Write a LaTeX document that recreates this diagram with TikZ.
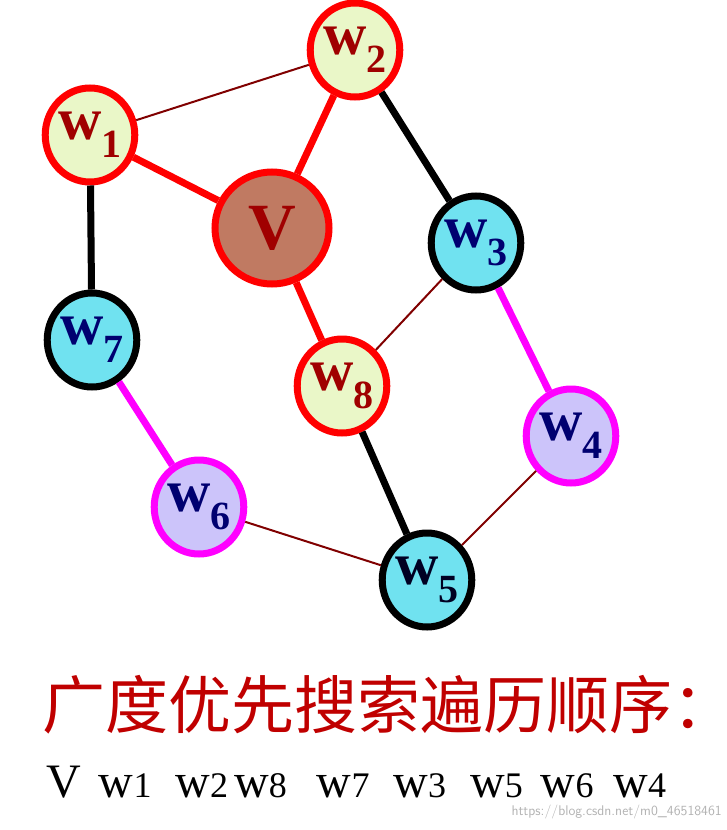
\documentclass[tikz,border=0pt]{standalone}
\usepackage{fontspec}
\setmainfont{Liberation Serif}
\newfontfamily\cjk{Noto Sans CJK SC}
\usetikzlibrary{shapes.geometric}
\definecolor{lg}{HTML}{EAF7C8}
\definecolor{vb}{HTML}{C07A62}
\definecolor{cy}{HTML}{70E2F0}
\definecolor{lv}{HTML}{CCC4FA}
\definecolor{dr}{HTML}{A00000}
\definecolor{nv}{HTML}{000070}
\definecolor{thin}{HTML}{800000}
\definecolor{mg}{HTML}{FF00FF}
\definecolor{tr}{HTML}{C00000}
\newcommand{\wlab}[1]{w\raisebox{-0.3em}{\fontsize{40}{40}\selectfont #1}}
\newcommand{\sq}[1]{w{\fontsize{36}{36}\selectfont #1}}
\begin{document}
\begin{tikzpicture}[x=1pt,y=-1pt,
  base/.style={ellipse,line width=7pt,minimum width=84pt,minimum height=94pt,inner sep=0pt,font=\fontsize{60}{60}\selectfont\bfseries},
  ny/.style={base,draw=red,fill=lg,text=dr},
  nc/.style={base,draw=black,fill=cy,text=nv},
  nl/.style={base,draw=mg,fill=lv,text=nv},
  thinE/.style={draw=thin,line width=2pt},
  redE/.style={draw=red,line width=7pt},
  blkE/.style={draw=black,line width=7pt},
  magE/.style={draw=mg,line width=7pt}]
\useasboundingbox (0,0) rectangle (726,830);
\node[ny] (w2) at (355,50) {\wlab{2}};
\node[ny] (w1) at (90,135) {\wlab{1}};
\node[base,draw=red,fill=vb,text=dr,minimum width=114pt,minimum height=112pt,font=\fontsize{66}{66}\selectfont\bfseries] (v) at (272,228) {V};
\node[nc] (w3) at (476,243) {\wlab{3}};
\node[nc] (w7) at (92,340) {\wlab{7}};
\node[ny] (w8) at (342,386) {\wlab{8}};
\node[nl] (w4) at (571,436) {\wlab{4}};
\node[nl] (w6) at (199,507) {\wlab{6}};
\node[nc,text=black!70!nv] (w5) at (427,580) {\wlab{5}};
\path[thinE] (w1) -- (w2);
\path[redE] (w1) -- (v);
\path[redE] (w2) -- (v);
\path[blkE] (w2) -- (w3);
\path[blkE] (w1) -- (w7);
\path[redE] (v) -- (w8);
\path[thinE] (w8) -- (w3);
\path[magE] (w3) -- (w4);
\path[magE] (w7) -- (w6);
\path[blkE] (w8) -- (w5);
\path[thinE] (w6) -- (w5);
\path[thinE] (w4) -- (w5);
\node[text=tr,font=\cjk\fontsize{63}{63}\selectfont,anchor=west,inner sep=0pt] (t) at (42,705) {广度优先搜索遍历顺序：};
\node[font=\fontsize{48}{48}\selectfont,anchor=west,inner sep=0pt] (s) at (46,782)
 {V\hspace{18pt}\sq{1}\hspace{24pt}\sq{2}\hspace{6pt}\sq{8}\hspace{30pt}\sq{7}\hspace{24pt}\sq{3}\hspace{24pt}\sq{5}\hspace{18pt}\sq{6}\hspace{20pt}\sq{4}};
\node[text=gray!60,font=\sffamily\fontsize{14}{14}\selectfont,anchor=east,inner sep=0pt] (wm) at (722,812) {https://blog.csdn.net/m0\_46518461};
\end{tikzpicture}
\end{document}
